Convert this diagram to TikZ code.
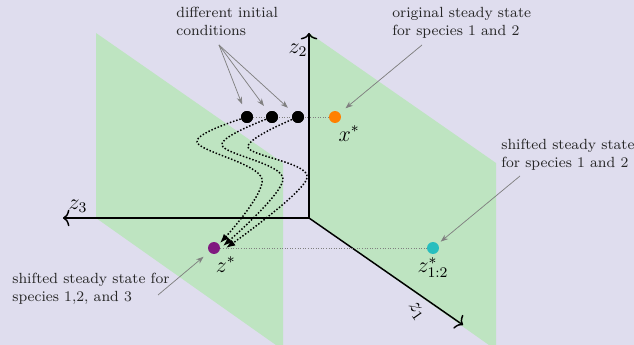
\documentclass[tikz,border=0pt]{standalone}
\usepackage{amsmath, amssymb}
\usetikzlibrary{arrows.meta, positioning, calc}
\definecolor{bgcol}{RGB}{223,221,238}
\definecolor{planecol}{RGB}{190,228,193}
\definecolor{orangept}{RGB}{255,128,0}
\definecolor{purplept}{RGB}{128,25,128}
\definecolor{cyanpt}{RGB}{40,190,190}

\begin{document}
\begin{tikzpicture}[x=0.0191cm, y=-0.0191cm,
    axis/.style={thick, -{To[length=3.5pt, width=9pt]}},
    plane/.style={fill=planecol, draw=none},
    dot/.style={circle, inner sep=0pt, minimum size=6.5pt},
    traj/.style={thick, densely dotted, -{Latex[length=5pt]}},
    guide/.style={gray, densely dotted},
    note/.style={font=\footnotesize, align=left, inner sep=0pt, text=black!85},
    lab/.style={font=\large},
    pointer/.style={gray, -{Stealth[length=4pt, width=3pt]}, shorten >=4pt}]
                % background
                \fill[bgcol] (0,0) rectangle (634,345);
                \useasboundingbox (0,0) rectangle (634,345);
                \begin{scope}
                \clip (0,0) rectangle (634,345);
                % planes
                \fill[plane] (96,33) -- (283,163) -- (283,350) -- (96,218) -- cycle;
                \fill[plane] (309,33) -- (496,163) -- (496,350) -- (309,218) -- cycle;
                \end{scope}
                % axes
                \coordinate (O) at (309,218);
                \coordinate (e1) at (463,325);
                \coordinate (e2) at (309,33);
                \coordinate (e3) at (63,218);
                \draw[axis] (O) -- (e1);
                \draw[axis] (O) -- (e2);
                \draw[axis] (O) -- (e3);
                \node[lab] (l1) at (416,311) [rotate=-55] {$z_1$};
                \node[lab] (l2) at (298,50) {$z_2$};
                \node[lab] (l3) at (78,206) {$z_3$};
                % initial conditions
                \node[dot, fill=black] (d1) at (247,117) {};
                \node[dot, fill=black] (d2) at (272,117) {};
                \node[dot, fill=black] (d3) at (298,117) {};
                % steady states
                \node[dot, fill=orangept] (xs) at (335,117) {};
                \node[dot, fill=purplept] (zs) at (214,248) {};
                \node[dot, fill=cyanpt] (zc) at (433,248) {};
                \draw[guide] (d1) -- (xs);
                \draw[guide] (zs) -- (zc);
                \node[lab, below right=-1pt and -4pt of xs] (xslab) {$x^*$};
                \node[lab, below right=-1pt and -5pt of zs] (zslab) {$z^*$};
                \node[lab, below=-2pt of zc] (zclab) {$z^*_{1:2}$};
                % trajectories
                \draw[traj] plot[smooth, tension=0.55] coordinates {(d1) (197,142) (262,179) (220,243)};
                \draw[traj] plot[smooth, tension=0.55] coordinates {(d2) (222,145) (283,179) (223,246)};
                \draw[traj] plot[smooth, tension=0.55] coordinates {(d3) (248,147) (307,178) (226,248)};
                % redraw dots over the curves
                \fill (d1) circle (3.25pt) (d2) circle (3.25pt) (d3) circle (3.25pt);
                % notes
                \node[note, anchor=north west] (ic) at (176,7) {different initial\\conditions};
                \node[note, anchor=north west] (orig) at (392,7) {original steady state\\for species 1 and 2};
                \node[note, anchor=north west] (sh12) at (501,139) {shifted steady state\\for species 1 and 2};
                \node[note, anchor=north west] (sh123) at (12,273) {shifted steady state for\\species 1,2, and 3};
                \coordinate (icp) at (219,45);
                \draw[pointer] (icp) -- (d1);
                \draw[pointer] (icp) -- (d2);
                \draw[pointer] (icp) -- (d3);
                \coordinate (origp) at (422,45);
                \draw[pointer] (origp) -- (xs);
                \coordinate (sh12p) at (520,176);
                \draw[pointer, shorten >=2pt] (sh12p) -- (zc);
                \coordinate (sh123p) at (158,295);
                \draw[pointer] (sh123p) -- (zs);
            \end{tikzpicture}
\end{document}
